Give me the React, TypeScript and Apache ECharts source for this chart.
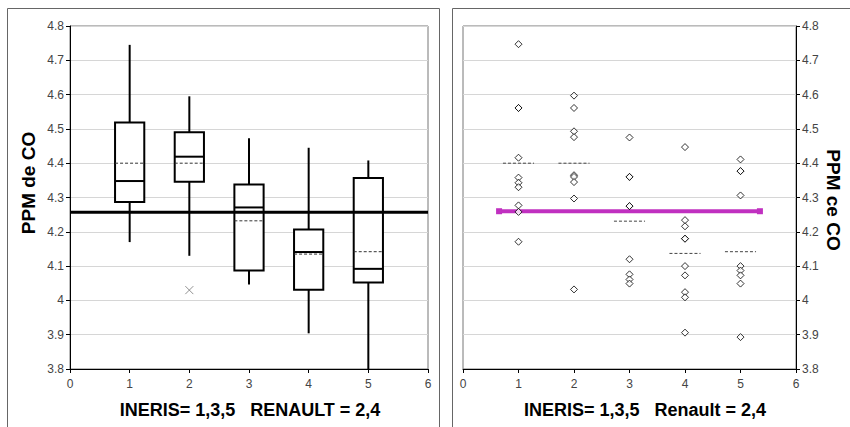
import React, { useEffect, useRef } from "react";
import * as echarts from "echarts";

// ---- Left panel: box plot statistics ----
const boxX = [1, 2, 3, 4, 5];
const boxMin = [4.17, 4.13, 4.046, 3.904, 3.8];
const boxQ1 = [4.287, 4.346, 4.087, 4.031, 4.052];
const boxMedian = [4.348, 4.419, 4.271, 4.141, 4.092];
const boxQ3 = [4.519, 4.49, 4.338, 4.207, 4.357];
const boxMax = [4.745, 4.595, 4.473, 4.445, 4.408];
const boxMean = [4.4, 4.4, 4.232, 4.135, 4.142];
const outlierX = [2];
const outlierY = [4.03];
const referenceLevel = 4.257;

// ---- Right panel: individual measurements ----
const group1Points = [4.747, 4.561, 4.561, 4.416, 4.358, 4.343, 4.33, 4.277, 4.258, 4.171];
const group2Points = [4.597, 4.561, 4.493, 4.476, 4.365, 4.36, 4.345, 4.297, 4.032];
const group3Points = [4.475, 4.36, 4.36, 4.275, 4.275, 4.12, 4.076, 4.061, 4.049];
const group4Points = [4.447, 4.234, 4.216, 4.18, 4.18, 4.1, 4.073, 4.024, 4.009, 3.906];
const group5Points = [4.411, 4.377, 4.377, 4.306, 4.1, 4.087, 4.073, 4.049, 3.893];
const groupX = [1, 2, 3, 4, 5];
const rightMeans = [4.4, 4.4, 4.231, 4.137, 4.142];
const pinkLineX = [0.65, 5.35];
const pinkLineY = 4.26;

const yTicks = { min: 3.8, max: 4.8, interval: 0.1 };
const xTicks = { min: 0, max: 6, interval: 1 };

const FONT = 'Arial, "Liberation Sans", sans-serif';

export default function App() {
  const ref = useRef<HTMLDivElement>(null);

  useEffect(() => {
    if (!ref.current) return;
    const chart = echarts.init(ref.current, undefined, { renderer: "svg" });

    const allGroups = [group1Points, group2Points, group3Points, group4Points, group5Points];
    const scatterData: number[][] = [];
    allGroups.forEach((g, i) => g.forEach((v) => scatterData.push([groupX[i], v])));

    const boxData = boxX.map((x, i) => [x, boxMin[i], boxQ1[i], boxMedian[i], boxQ3[i], boxMax[i], boxMean[i]]);
    const meanData = groupX.map((x, i) => [x, rightMeans[i]]);

    const fmt = (v: number) => String(+v.toFixed(1));

    const xAxisBase = (gridIndex: number) => ({
      type: "value",
      gridIndex,
      min: xTicks.min,
      max: xTicks.max,
      interval: xTicks.interval,
      axisLine: { show: true, onZero: false, lineStyle: { color: "#000", width: 1 } },
      axisTick: { show: true, inside: false, length: 4, lineStyle: { color: "#000" } },
      axisLabel: { fontSize: 12, color: "#444", fontFamily: FONT, margin: 9, formatter: (v: number) => fmt(v) },
      splitLine: { show: false },
    });

    const yAxisBase = (gridIndex: number, position: string) => ({
      type: "value",
      gridIndex,
      position,
      min: yTicks.min,
      max: yTicks.max,
      interval: yTicks.interval,
      axisLine: { show: true, onZero: false, lineStyle: { color: "#000", width: 1 } },
      axisTick: { show: true, inside: false, length: 4, lineStyle: { color: "#000" } },
      axisLabel: { fontSize: 12, color: "#444", fontFamily: FONT, margin: 6, formatter: (v: number) => fmt(v) },
      splitLine: { show: true, lineStyle: { color: "#d6d6d6", width: 1 } },
    });

    const option: any = {
      animation: false,
      backgroundColor: "#fff",
      grid: [
        { left: 70, top: 26, width: 358, height: 343, show: true, borderColor: "#777", borderWidth: 1, backgroundColor: "transparent" },
        { left: 463, top: 26, width: 333, height: 343, show: true, borderColor: "#777", borderWidth: 1, backgroundColor: "transparent" },
      ],
      xAxis: [xAxisBase(0), xAxisBase(1)],
      yAxis: [yAxisBase(0, "left"), yAxisBase(1, "right")],
      graphic: [
        { type: "rect", shape: { x: 7.5, y: 8.5, width: 432, height: 440 }, style: { fill: "none", stroke: "#666", lineWidth: 1 }, silent: true, z: -10 },
        { type: "rect", shape: { x: 452.5, y: 8.5, width: 420, height: 440 }, style: { fill: "none", stroke: "#666", lineWidth: 1 }, silent: true, z: -10 },
        {
          type: "text", x: 28, y: 183, rotation: Math.PI / 2,
          style: { text: "PPM de CO", font: `bold 19px ${FONT}`, fill: "#000", textAlign: "center", textVerticalAlign: "middle" },
        },
        {
          type: "text", x: 833, y: 200, rotation: -Math.PI / 2,
          style: { text: "PPM ce CO", font: `bold 19px ${FONT}`, fill: "#000", textAlign: "center", textVerticalAlign: "middle" },
        },
        {
          type: "text", x: 250, y: 410,
          style: { text: "INERIS= 1,3,5   RENAULT = 2,4", font: `bold 18px ${FONT}`, fill: "#000", textAlign: "center", textVerticalAlign: "middle" },
        },
        {
          type: "text", x: 645, y: 410,
          style: { text: "INERIS= 1,3,5   Renault = 2,4", font: `bold 18px ${FONT}`, fill: "#000", textAlign: "center", textVerticalAlign: "middle" },
        },
      ],
      series: [
        {
          type: "custom",
          xAxisIndex: 0,
          yAxisIndex: 0,
          z: 2,
          data: boxData,
          renderItem: (params: any, api: any) => {
            const x = api.value(0);
            const hw = 0.245;
            const pMin = api.coord([x, api.value(1)]);
            const pQ1 = api.coord([x, api.value(2)]);
            const pMed = api.coord([x, api.value(3)]);
            const pQ3 = api.coord([x, api.value(4)]);
            const pMax = api.coord([x, api.value(5)]);
            const pMean = api.coord([x, api.value(6)]);
            const xl = api.coord([x - hw, 0])[0];
            const xr = api.coord([x + hw, 0])[0];
            const lw = { stroke: "#000", lineWidth: 2 };
            return {
              type: "group",
              children: [
                { type: "line", shape: { x1: pMax[0], y1: pMax[1], x2: pQ3[0], y2: pQ3[1] }, style: lw },
                { type: "line", shape: { x1: pQ1[0], y1: pQ1[1], x2: pMin[0], y2: pMin[1] }, style: lw },
                { type: "rect", shape: { x: xl, y: pQ3[1], width: xr - xl, height: pQ1[1] - pQ3[1] }, style: { fill: "#fff", stroke: "#000", lineWidth: 2 } },
                { type: "line", shape: { x1: xl, y1: pMean[1], x2: xr, y2: pMean[1] }, style: { stroke: "#333", lineWidth: 1, lineDash: [3, 2] } },
                { type: "line", shape: { x1: xl, y1: pMed[1], x2: xr, y2: pMed[1] }, style: lw },
              ],
            };
          },
        },
        {
          type: "line",
          xAxisIndex: 0,
          yAxisIndex: 0,
          z: 5,
          symbol: "none",
          data: [[xTicks.min, referenceLevel], [xTicks.max, referenceLevel]],
          lineStyle: { color: "#000", width: 3 },
        },
        {
          type: "scatter",
          xAxisIndex: 0,
          yAxisIndex: 0,
          z: 4,
          symbol: "path://M0,0L10,10M10,0L0,10",
          symbolSize: 8,
          data: outlierX.map((x, i) => [x, outlierY[i]]),
          itemStyle: { color: "none", borderColor: "#777", borderWidth: 1 },
        },
        {
          type: "line",
          xAxisIndex: 1,
          yAxisIndex: 1,
          z: 3,
          symbol: "rect",
          symbolSize: 6,
          data: pinkLineX.map((x) => [x, pinkLineY]),
          lineStyle: { color: "#C030C0", width: 4 },
          itemStyle: { color: "#C030C0" },
        },
        {
          type: "custom",
          xAxisIndex: 1,
          yAxisIndex: 1,
          z: 3,
          data: meanData,
          renderItem: (params: any, api: any) => {
            const x = api.value(0);
            const p1 = api.coord([x - 0.28, api.value(1)]);
            const p2 = api.coord([x + 0.28, api.value(1)]);
            return { type: "line", shape: { x1: p1[0], y1: p1[1], x2: p2[0], y2: p2[1] }, style: { stroke: "#444", lineWidth: 1, lineDash: [3, 2] } };
          },
        },
        {
          type: "scatter",
          xAxisIndex: 1,
          yAxisIndex: 1,
          z: 6,
          symbol: "diamond",
          symbolSize: 7,
          data: scatterData,
          itemStyle: { color: "#fff", borderColor: "#000", borderWidth: 1 },
        },
      ],
    };

    chart.setOption(option);
    return () => chart.dispose();
  }, []);

  return <div ref={ref} style={{ position: "fixed", left: 0, top: 0, width: 850, height: 427 }} />;
}
